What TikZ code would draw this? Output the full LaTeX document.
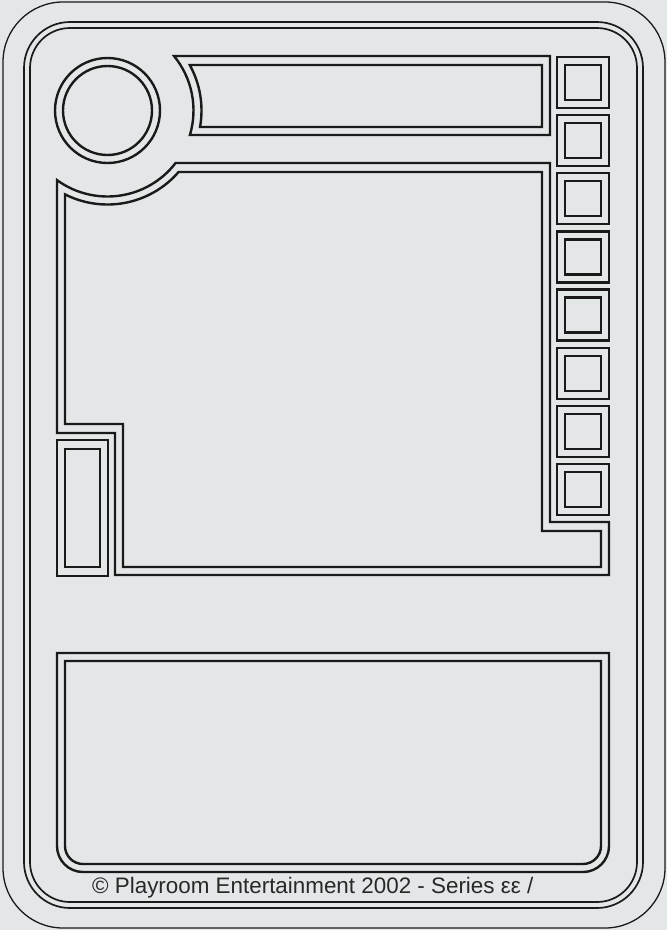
\documentclass[tikz,border=0pt]{standalone}
\usepackage{fontspec}
\setmainfont{Liberation Sans}
\definecolor{bg}{RGB}{228,231,232}
\definecolor{ink}{RGB}{26,26,26}
\definecolor{txt}{RGB}{40,40,40}
\begin{document}
\begin{tikzpicture}[x=1pt,y=-1pt,
  cardline/.style={draw=ink,line width=1.3pt},
  borderline/.style={draw=ink,line width=1.7pt},
  frameline/.style={draw=ink,line width=2.4pt,line join=miter},
  foot/.style={text=txt,font=\fontsize{22.4}{22.4}\selectfont,inner sep=0pt,anchor=base west}]
\fill[bg] (0,0) rectangle (667,930);
\useasboundingbox (0,0) rectangle (667,930);
% card outline
\draw[cardline,rounded corners=60pt] (3,2) rectangle (665,928);
\draw[borderline,rounded corners=46pt] (24,22) rectangle (643,908);
\draw[borderline,rounded corners=40pt] (30,28) rectangle (637,902);
% circle
\draw[frameline] (107.5,110.5) circle[radius=52.5];
\draw[frameline] (107.5,110.5) circle[radius=44.5];
% title box
\draw[frameline] (550,56) -- ([shift={(107.5,110.5)}]-39.33:86)
  arc[start angle=-39.33,end angle=16.56,radius=86] -- (550,135) -- cycle;
\draw[frameline] (542,65) -- ([shift={(107.5,110.5)}]-28.95:94)
  arc[start angle=-28.95,end angle=10.11,radius=94] -- (542,127) -- cycle;
% side boxes
\foreach \k in {0,...,7}{
  \pgfmathsetmacro\yy{57+58.14*\k}
  \draw[frameline] (557,\yy) rectangle (609,\yy+51);
  \draw[frameline] (565,\yy+8) rectangle (601,\yy+43);
}
% main frame
\draw[frameline] ([shift={(107.5,110.5)}]125.96:86)
  arc[start angle=125.96,end angle=37.62,radius=86]
  -- (550,163) -- (550,522) -- (609,522) -- (609,575) -- (115,575)
  -- (115,433) -- (57,433) -- cycle;
\draw[frameline] ([shift={(107.5,110.5)}]116.88:94)
  arc[start angle=116.88,end angle=40.86,radius=94]
  -- (542,172) -- (542,531) -- (601,531) -- (601,567) -- (123,567)
  -- (123,424) -- (65,424) -- cycle;
% left small box
\draw[frameline] (57,440) rectangle (108,576);
\draw[frameline] (65,449) rectangle (100,567);
% bottom box
\draw[frameline] (57,653) -- (609,653) -- (609,846)
  arc[start angle=0,end angle=90,radius=26] -- (83,872)
  arc[start angle=90,end angle=180,radius=26] -- cycle;
\draw[frameline] (65,661) -- (601,661) -- (601,846)
  arc[start angle=0,end angle=90,radius=18] -- (83,864)
  arc[start angle=90,end angle=180,radius=18] -- cycle;
% footer text
\node[foot] (footer) at (92,893.5) {© Playroom Entertainment 2002 - Series εε /};
\end{tikzpicture}
\end{document}
